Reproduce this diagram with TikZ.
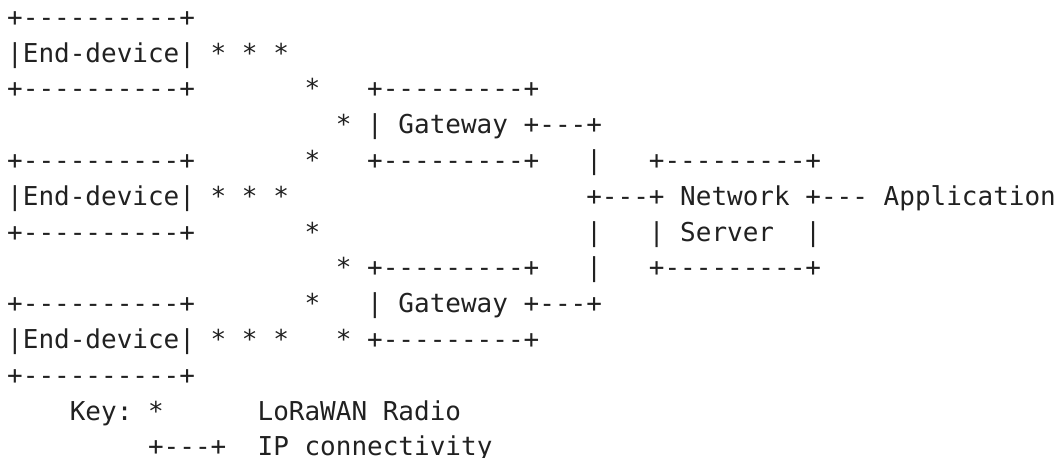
\documentclass[tikz,border=0pt]{standalone}
\usepackage{fontspec}
\setmonofont{DejaVu Sans Mono}
\definecolor{asciigray}{RGB}{33,33,33}

\begin{document}
\begin{tikzpicture}[x=7.825pt, y=17.9pt,
    ascii/.style={anchor=base west, inner sep=0pt, outer sep=0pt,
                  font=\fontsize{13}{16}\ttfamily, text=asciigray}]
  \useasboundingbox (-0.46,0.735) rectangle (67.14,-12.03);
  % end-devices
  \node[ascii] (dev1top) at (0,0)  {+----------+};
  \node[ascii] (dev1)    at (0,-1) {|End-device|};
  \node[ascii] (dev1bot) at (0,-2) {+----------+};
  \node[ascii] (dev2top) at (0,-4) {+----------+};
  \node[ascii] (dev2)    at (0,-5) {|End-device|};
  \node[ascii] (dev2bot) at (0,-6) {+----------+};
  \node[ascii] (dev3top) at (0,-8) {+----------+};
  \node[ascii] (dev3)    at (0,-9) {|End-device|};
  \node[ascii] (dev3bot) at (0,-10) {+----------+};
  % radio links
  \node[ascii] (radio1)  at (13,-1) {* * *};
  \node[ascii] (radio1a) at (19,-2) {*};
  \node[ascii] (radio1b) at (21,-3) {*};
  \node[ascii] (radio1c) at (19,-4) {*};
  \node[ascii] (radio2)  at (13,-5) {* * *};
  \node[ascii] (radio2a) at (19,-6) {*};
  \node[ascii] (radio2b) at (21,-7) {*};
  \node[ascii] (radio2c) at (19,-8) {*};
  \node[ascii] (radio3)  at (13,-9) {* * *};
  \node[ascii] (radio3a) at (21,-9) {*};
  % gateways
  \node[ascii] (gw1top)  at (23,-2) {+---------+};
  \node[ascii] (gw1)     at (23,-3) {| Gateway +---+};
  \node[ascii] (gw1bot)  at (23,-4) {+---------+};
  \node[ascii] (gw2top)  at (23,-7) {+---------+};
  \node[ascii] (gw2)     at (23,-8) {| Gateway +---+};
  \node[ascii] (gw2bot)  at (23,-9) {+---------+};
  % IP links
  \node[ascii] (ip1)     at (37,-4) {|};
  \node[ascii] (ip2)     at (37,-6) {|};
  \node[ascii] (ip3)     at (37,-7) {|};
  % network server
  \node[ascii] (nstop)   at (41,-4) {+---------+};
  \node[ascii] (ns)      at (37,-5) {+---+ Network +--- Application};
  \node[ascii] (nsmid)   at (41,-6) {| Server};
  \node[ascii] (nsedge)  at (51,-6) {|};
  \node[ascii] (nsbot)   at (41,-7) {+---------+};
  % key
  \node[ascii] (keyradio) at (4,-11)  {Key: *};
  \node[ascii] (keyrtext) at (16,-11) {LoRaWAN Radio};
  \node[ascii] (keyip)    at (9,-12)  {+---+};
  \node[ascii] (keyitext) at (16,-12) {IP connectivity};
\end{tikzpicture}
\end{document}
